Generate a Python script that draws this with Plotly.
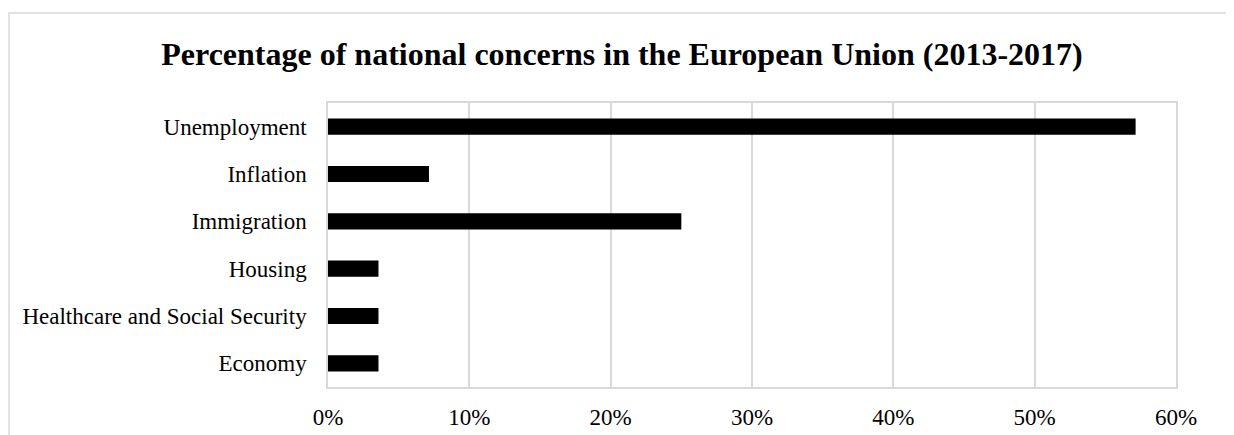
import plotly.graph_objects as go

categories = ["Unemployment", "Inflation", "Immigration", "Housing",
              "Healthcare and Social Security", "Economy"]
counts = [16, 2, 7, 1, 1, 1]
total = 28
values = [c / total for c in counts]

title_text = "Percentage of national concerns in the European Union (2013-2017)"
tick_vals = [0, 0.1, 0.2, 0.3, 0.4, 0.5, 0.6]
tick_text = ["0%", "10%", "20%", "30%", "40%", "50%", "60%"]

# page body has an 8px margin, so the figure is drawn 8px in from the window edge
OFF = 8
W, H = 1234 - OFF, 435 - OFF
L, R, T, B = 328 - OFF, 58, 103 - OFF, 48
pw, ph = W - L - R, H - T - B

def px_x(p):
    return (p - OFF - L) / pw

def px_y(p):
    return (H - B - (p - OFF)) / ph

fig = go.Figure(go.Bar(
    x=values, y=categories, orientation="h",
    marker=dict(color="#000000", line=dict(width=0)),
    width=0.34,
))

grid = "#d9d9d9"
fig.update_layout(
    width=W, height=H,
    margin=dict(l=L, r=R, t=T, b=B, autoexpand=False),
    paper_bgcolor="white", plot_bgcolor="white",
    showlegend=False,
    title=dict(text=f"<b>{title_text}</b>", x=(622 - OFF) / W, xref="container",
               xanchor="center", y=1 - (54 - OFF) / H, yref="container", yanchor="middle",
               font=dict(family="Liberation Serif", size=32, color="#000000")),
    font=dict(family="Liberation Serif", color="#000000"),
    xaxis=dict(range=[0, 0.6], tickvals=tick_vals, ticktext=tick_text,
               showgrid=True, gridcolor=grid, gridwidth=1.5,
               showline=True, linecolor=grid, linewidth=1.5, mirror=True,
               zeroline=False, ticks="", tickfont=dict(size=23, family="Liberation Serif"),
               ticklabelstandoff=9, automargin=False),
    yaxis=dict(categoryorder="array", categoryarray=categories[::-1],
               showgrid=False, showline=True, linecolor=grid, linewidth=1.5, mirror=True,
               ticks="", tickfont=dict(size=23, family="Liberation Serif"),
               ticklabelstandoff=15, automargin=False),
    shapes=[dict(type="rect", xref="paper", yref="paper",
                 x0=px_x(9), x1=px_x(1240), y0=px_y(440), y1=px_y(13),
                 line=dict(color=grid, width=1.5), fillcolor="rgba(0,0,0,0)", layer="below")],
)

fig.write_html("out.html")
